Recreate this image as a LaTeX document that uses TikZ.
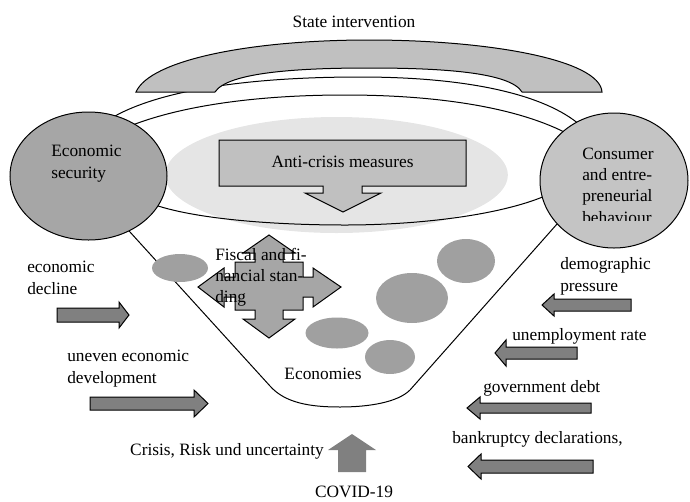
\documentclass[tikz,border=0pt]{standalone}
\usepackage{fontspec}
\setmainfont{Liberation Serif}
\usetikzlibrary{shapes.geometric}
\definecolor{haze}{HTML}{E5E5E5}
\definecolor{archgray}{HTML}{C0C0C0}
\definecolor{secgray}{HTML}{A6A6A6}
\definecolor{consgray}{HTML}{C4C4C4}
\definecolor{blobgray}{HTML}{A0A0A0}
\definecolor{arrgray}{HTML}{808080}

\begin{document}
\begin{tikzpicture}[x=0.75pt, y=-0.75pt, every node/.style={font=\fontsize{13}{16}\selectfont, inner sep=0pt}, lbl/.style={anchor=base west, align=left}, ring/.style={draw, line width=0.75pt}, bigdisc/.style={ellipse, draw, line width=0.75pt}, blob/.style={ellipse, fill=blobgray}, blockarr/.style={draw, fill=arrgray, line width=0.75pt}]
    \useasboundingbox (0,0) rectangle (690,501);

    % light field behind the measures
    \node[ellipse, fill=haze, minimum width=257pt, minimum height=87pt] (haze) at (336.5,175) {};

    % rims and funnel
    \draw[ring] (105,122) .. controls (150,92) and (240,77) .. (360,77) .. controls (470,77) and (545,95) .. (580,125);
    \draw[ring] (125,128) .. controls (180,105) and (260,95) .. (345,95) .. controls (440,95) and (520,108) .. (570,135);
    \draw[ring] (155,205) .. controls (200,220) and (280,225) .. (345,225) .. controls (420,225) and (500,215) .. (545,196);
    \draw[ring] (120,221) -- (270,386) .. controls (285,403) and (310,407) .. (340,407) .. controls (370,407) and (398,402) .. (410,390) -- (565,215);

    % state intervention
    \draw[ring, fill=archgray] (136,92) .. controls (150,60) and (250,40) .. (369,40) .. controls (490,40) and (600,60) .. (602,92) -- (522,92) .. controls (510,72) and (440,68) .. (369,68) .. controls (300,68) and (228,72) .. (215,92) -- cycle;
    \node[anchor=base] (state) at (354,27) {State intervention};

    % the two sides (multi-line labels sit on their last line)
    \node[bigdisc, fill=secgray, minimum width=117.75pt, minimum height=96pt] (econ) at (88.5,176) {};
    \node[lbl] (econtxt) at (51,178.3) {Economic\\security};
    \node[bigdisc, fill=consgray, minimum width=111pt, minimum height=101.25pt] (cons) at (614,180.5) {};
    \begin{scope}
      \clip (540,100) rectangle (690,220.5);
      \node[lbl] (constxt) at (582,223) {Consumer\\and entre-\\preneurial\\behaviour};
    \end{scope}

    % anti-crisis measures
    \draw[ring, fill=archgray] (219,140) -- (466,140) -- (466,186) -- (362,186) -- (362,193) -- (381,193) -- (343,212) -- (305,193) -- (323,193) -- (323,186) -- (219,186) -- cycle;
    \node[anchor=base] (anti) at (342.5,167) {Anti-crisis measures};

    % economies
    \node[blob, minimum width=42pt, minimum height=21pt] (e1) at (180,268) {};
    \node[blob, minimum width=43.5pt, minimum height=33pt] (e2) at (466,261) {};
    \node[blob, minimum width=54pt, minimum height=37.5pt] (e3) at (412,298) {};
    \node[blob, minimum width=47.25pt, minimum height=23.25pt] (e4) at (337,333) {};
    \node[blob, minimum width=37.5pt, minimum height=25.5pt] (e5) at (390,357) {};
    \draw[ring, fill=secgray] (269,235) -- (295,253) -- (283,253) -- (283,262) -- (303,262) -- (303,277) -- (313,277) -- (313,268) -- (341,287) -- (313,307) -- (313,297) -- (303,297) -- (303,310) -- (283,310) -- (283,319) -- (295,319) -- (269,338) -- (243,319) -- (255,319) -- (255,310) -- (235,310) -- (235,297) -- (224,297) -- (224,307) -- (198,287) -- (224,268) -- (224,277) -- (235,277) -- (235,262) -- (255,262) -- (255,253) -- (243,253) -- cycle;
    \node[lbl] (fiscal) at (215,302.7) {Fiscal and fi-\\nancial stan-\\ding};
    \node[anchor=base] (econs) at (323,379) {Economies};

    % factors from the left
    \node[lbl] (decline) at (27,294.3) {economic\\decline};
    \draw[blockarr] (57,308) -- (119,308) -- (119,302) -- (129,315) -- (119,328) -- (119,322) -- (57,322) -- cycle;
    \node[lbl] (uneven) at (67,383.3) {uneven economic\\development};
    \draw[blockarr] (90,397) -- (194,397) -- (194,390) -- (208,403.5) -- (194,417) -- (194,410) -- (90,410) -- cycle;

    % factors from the right
    \node[lbl] (demo) at (560,291.3) {demographic\\pressure};
    \draw[blockarr] (631,299) -- (554,299) -- (554,294) -- (542,305) -- (554,316) -- (554,311) -- (631,311) -- cycle;
    \node[lbl] (unempl) at (512,340) {unemployment rate};
    \draw[blockarr] (577,347) -- (506,347) -- (506,340) -- (495,353) -- (506,366) -- (506,359) -- (577,359) -- cycle;
    \node[lbl] (debt) at (483,392) {government debt};
    \draw[blockarr] (591,403) -- (480,403) -- (480,397) -- (467,408) -- (480,419) -- (480,413) -- (591,413) -- cycle;
    \node[lbl] (bankr) at (452,443) {bankruptcy declarations,};
    \draw[blockarr] (593,460) -- (481,460) -- (481,454) -- (468,466.5) -- (481,479) -- (481,473) -- (593,473) -- cycle;

    % crisis from below
    \draw[fill=arrgray, draw=none] (338,472) -- (338,450) -- (328,450) -- (352,434) -- (376,450) -- (366,450) -- (366,472) -- cycle;
    \node[anchor=base east] (crisis) at (324,455) {Crisis, Risk und uncertainty};
    \node[anchor=base] (covid) at (354,497) {COVID-19};
  \end{tikzpicture}
\end{document}
